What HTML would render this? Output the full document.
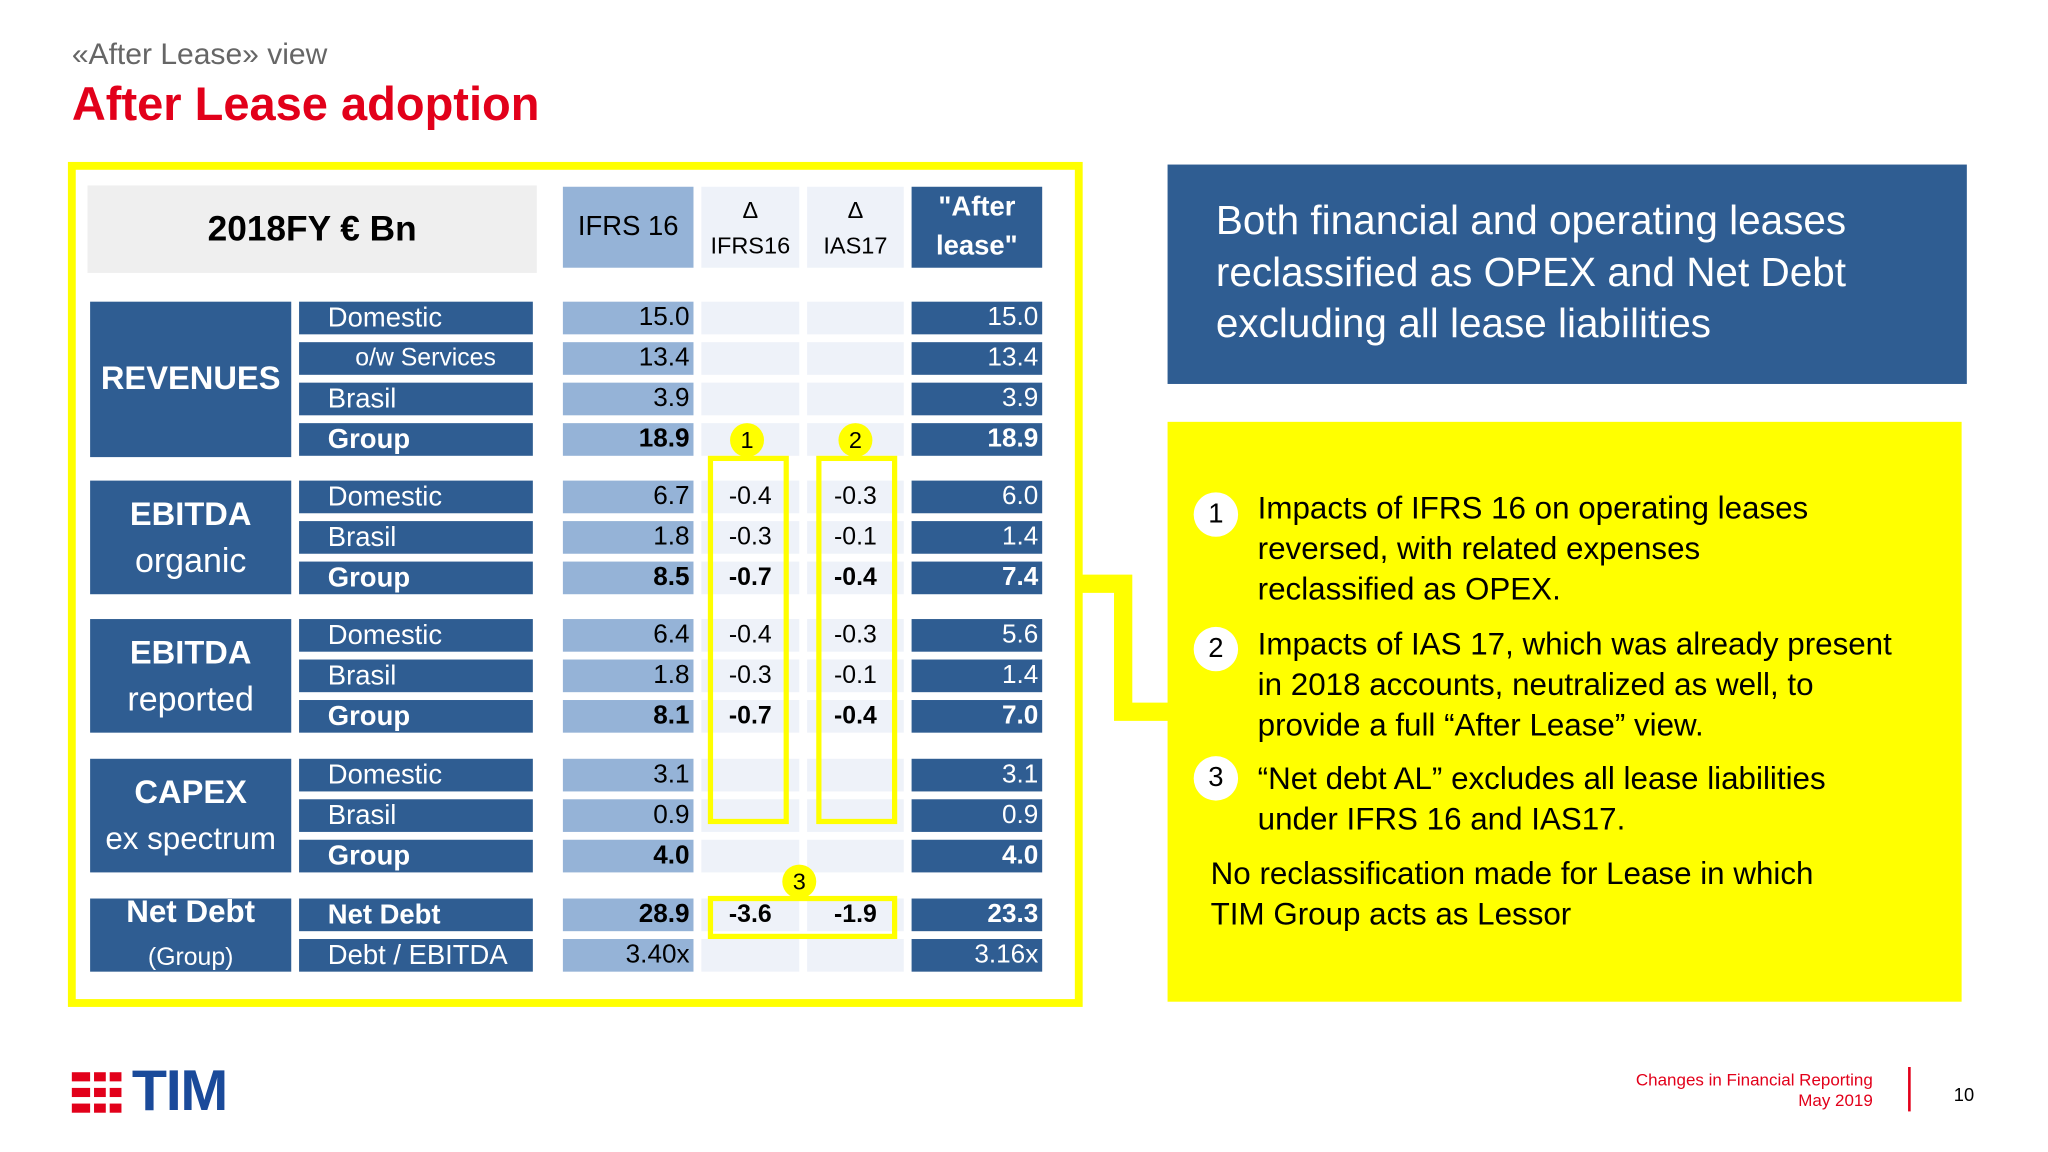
<!DOCTYPE html>
<html><head><meta charset="utf-8">
<style>
html,body{margin:0;padding:0;background:#fff;}
body{width:2048px;height:1152px;overflow:hidden;position:relative;font-family:"Liberation Sans",sans-serif;}
#s{position:absolute;left:0;top:0;width:1560px;height:880px;transform:scale(1.306);transform-origin:0 0;}
.a{position:absolute;box-sizing:border-box;}
.c{display:flex;align-items:center;}
.dk{background:#2f5d92;color:#fff;}
.md{background:#95b3d7;color:#000;}
.lt{background:#eef2f9;color:#000;}
.num{justify-content:flex-end;padding-right:3px;font-size:20px;}
.sub{font-size:21px;padding-left:22px;}
.circ{border-radius:50%;display:flex;align-items:center;justify-content:center;}
</style></head><body>
<div id="s">
<div class="a" style="left:55px;top:28px;font-size:23px;color:#666;">«After Lease» view</div>
<div class="a" style="left:55px;top:59px;font-size:36px;font-weight:bold;color:#e2001a;">After Lease adoption</div>

<div class="a" style="left:52px;top:124px;width:777px;height:647px;border:6px solid #ffff00;"></div>
<svg class="a" style="left:0;top:0" width="1560" height="880"><polyline points="826,447 860,447 860,545 896,545" fill="none" stroke="#ffff00" stroke-width="14"/></svg>

<div class="a c" style="left:67px;top:142px;width:344px;height:67px;background:#efefef;justify-content:center;font-size:27px;font-weight:bold;">2018FY € Bn</div>
<div class="a c md" style="left:431px;top:143px;width:100px;height:62px;justify-content:center;font-size:21px;">IFRS 16</div>
<div class="a lt" style="left:537px;top:143px;width:75px;height:62px;text-align:center;font-size:18px;line-height:27px;padding-top:5px;">Δ<br>IFRS16</div>
<div class="a lt" style="left:618px;top:143px;width:74px;height:62px;text-align:center;font-size:18px;line-height:27px;padding-top:5px;">Δ<br>IAS17</div>
<div class="a dk" style="left:698px;top:143px;width:100px;height:62px;text-align:center;font-size:21px;font-weight:bold;line-height:30px;padding-top:1px;">"After<br>lease"</div>

<div id="rows"></div>

<div class="a" style="left:542px;top:349px;width:62px;height:282px;border:4px solid #ffff00;"></div>
<div class="a" style="left:625px;top:349px;width:62px;height:282px;border:4px solid #ffff00;"></div>
<div class="a" style="left:542px;top:686px;width:145px;height:33px;border:4px solid #ffff00;"></div>
<div class="a circ" style="left:559px;top:324px;width:26px;height:26px;background:#ffff00;font-size:18px;">1</div>
<div class="a circ" style="left:642px;top:324px;width:26px;height:26px;background:#ffff00;font-size:18px;">2</div>
<div class="a circ" style="left:599px;top:662px;width:26px;height:26px;background:#ffff00;font-size:18px;">3</div>

<div class="a dk" style="left:894px;top:126px;width:612px;height:168px;padding:23px 0 0 37px;font-size:31px;line-height:39.5px;">Both financial and operating leases reclassified as OPEX and Net Debt excluding all lease liabilities</div>

<div class="a" style="left:894px;top:323px;width:608px;height:444px;background:#ffff00;"></div>
<div class="a circ" style="left:914px;top:377px;width:34px;height:34px;background:#fff;font-size:21px;">1</div>
<div class="a" style="left:963px;top:374px;width:440px;font-size:24px;line-height:31px;">Impacts of IFRS 16 on operating leases reversed, with related expenses reclassified as OPEX.</div>
<div class="a circ" style="left:914px;top:480px;width:34px;height:34px;background:#fff;font-size:21px;">2</div>
<div class="a" style="left:963px;top:478px;width:490px;font-size:24px;line-height:31px;">Impacts of IAS 17, which was already present in 2018 accounts, neutralized as well, to provide a full “After Lease” view.</div>
<div class="a circ" style="left:914px;top:579px;width:34px;height:34px;background:#fff;font-size:21px;">3</div>
<div class="a" style="left:963px;top:581px;width:500px;font-size:24px;line-height:31px;">“Net debt AL” excludes all lease liabilities under IFRS 16 and IAS17.</div>
<div class="a" style="left:927px;top:654px;width:480px;font-size:24px;line-height:31px;">No reclassification made for Lease in which TIM Group acts as Lessor</div>

<div class="a" style="left:55px;top:818px;width:130px;height:40px;">
 <div class="a" style="left:0;top:3px;width:38px;height:7px;background:#e2001a"></div>
 <div class="a" style="left:0;top:15px;width:38px;height:7px;background:#e2001a"></div>
 <div class="a" style="left:0;top:27px;width:38px;height:7px;background:#e2001a"></div>
 <div class="a" style="left:14px;top:0;width:3px;height:40px;background:#fff"></div>
 <div class="a" style="left:26px;top:0;width:3px;height:40px;background:#fff"></div>
 <div class="a" style="left:46px;top:-7px;font-size:44px;font-weight:bold;color:#1a4a9a;letter-spacing:-1px;">TIM</div>
</div>
<div class="a" style="left:1200px;top:819px;width:234px;text-align:right;font-size:13px;line-height:16px;color:#e2001a;">Changes in Financial Reporting<br>May 2019</div>
<div class="a" style="left:1461px;top:817px;width:2px;height:34px;background:#e2001a;"></div>
<div class="a" style="left:1496px;top:830px;font-size:14px;">10</div>
</div>
<script>
const groups=[["REVENUES","",231,350],["EBITDA","organic",368,455],["EBITDA","reported",474,561],["CAPEX","ex spectrum",581,668],["Net Debt","(Group)",688,744]];
const labels=["Domestic","o/w Services","Brasil","Group","Domestic","Brasil","Group","Domestic","Brasil","Group","Domestic","Brasil","Group","Net Debt","Debt / EBITDA"];
const ifrs16=["15.0","13.4","3.9","18.9","6.7","1.8","8.5","6.4","1.8","8.1","3.1","0.9","4.0","28.9","3.40x"];
const dIfrs=["","","","","-0.4","-0.3","-0.7","-0.4","-0.3","-0.7","","","","-3.6",""];
const dIas=["","","","","-0.3","-0.1","-0.4","-0.3","-0.1","-0.4","","","","-1.9",""];
const after=["15.0","13.4","3.9","18.9","6.0","1.4","7.4","5.6","1.4","7.0","3.1","0.9","4.0","23.3","3.16x"];
const tops=[231,262,293,324,368,399,430,474,505,536,581,612,643,688,719];
const bold=[0,0,0,1,0,0,1,0,0,1,0,0,1,1,0];
const root=document.getElementById('rows');
function mk(cls,l,t,w,h,txt,st){const d=document.createElement('div');d.className='a c '+cls;d.style.cssText=`left:${l}px;top:${t}px;width:${w}px;height:${h}px;`+(st||'');d.textContent=txt;root.appendChild(d);return d;}
groups.forEach((g,i)=>{const d=mk('dk',69,g[2],154,g[3]-g[2],'','flex-direction:column;justify-content:center;text-align:center;');


const a=document.createElement('div');a.textContent=g[0];a.style.cssText='font-size:'+(i==4?24:25)+'px;font-weight:bold;line-height:35px;';d.appendChild(a);
if(g[1]){const b=document.createElement('div');b.textContent=g[1];b.style.cssText='font-size:'+(i==4?19:i==3?24:26)+'px;line-height:35px;';d.appendChild(b);}});
labels.forEach((lb,i)=>{const t=tops[i],fw=bold[i]?'font-weight:bold;':'';
let d=mk('dk sub',229,t,179,25,lb,fw+(i==1?'padding-left:43px;font-size:19px;':''));


d=mk('md num',431,t,100,25,ifrs16[i],fw);


d=mk('lt',537,t,75,25,dIfrs[i],fw+'justify-content:center;font-size:19px;');


d=mk('lt',618,t,74,25,dIas[i],fw+'justify-content:center;font-size:19px;');


d=mk('dk num',698,t,100,25,after[i],fw);

});
</script>
</body></html>
